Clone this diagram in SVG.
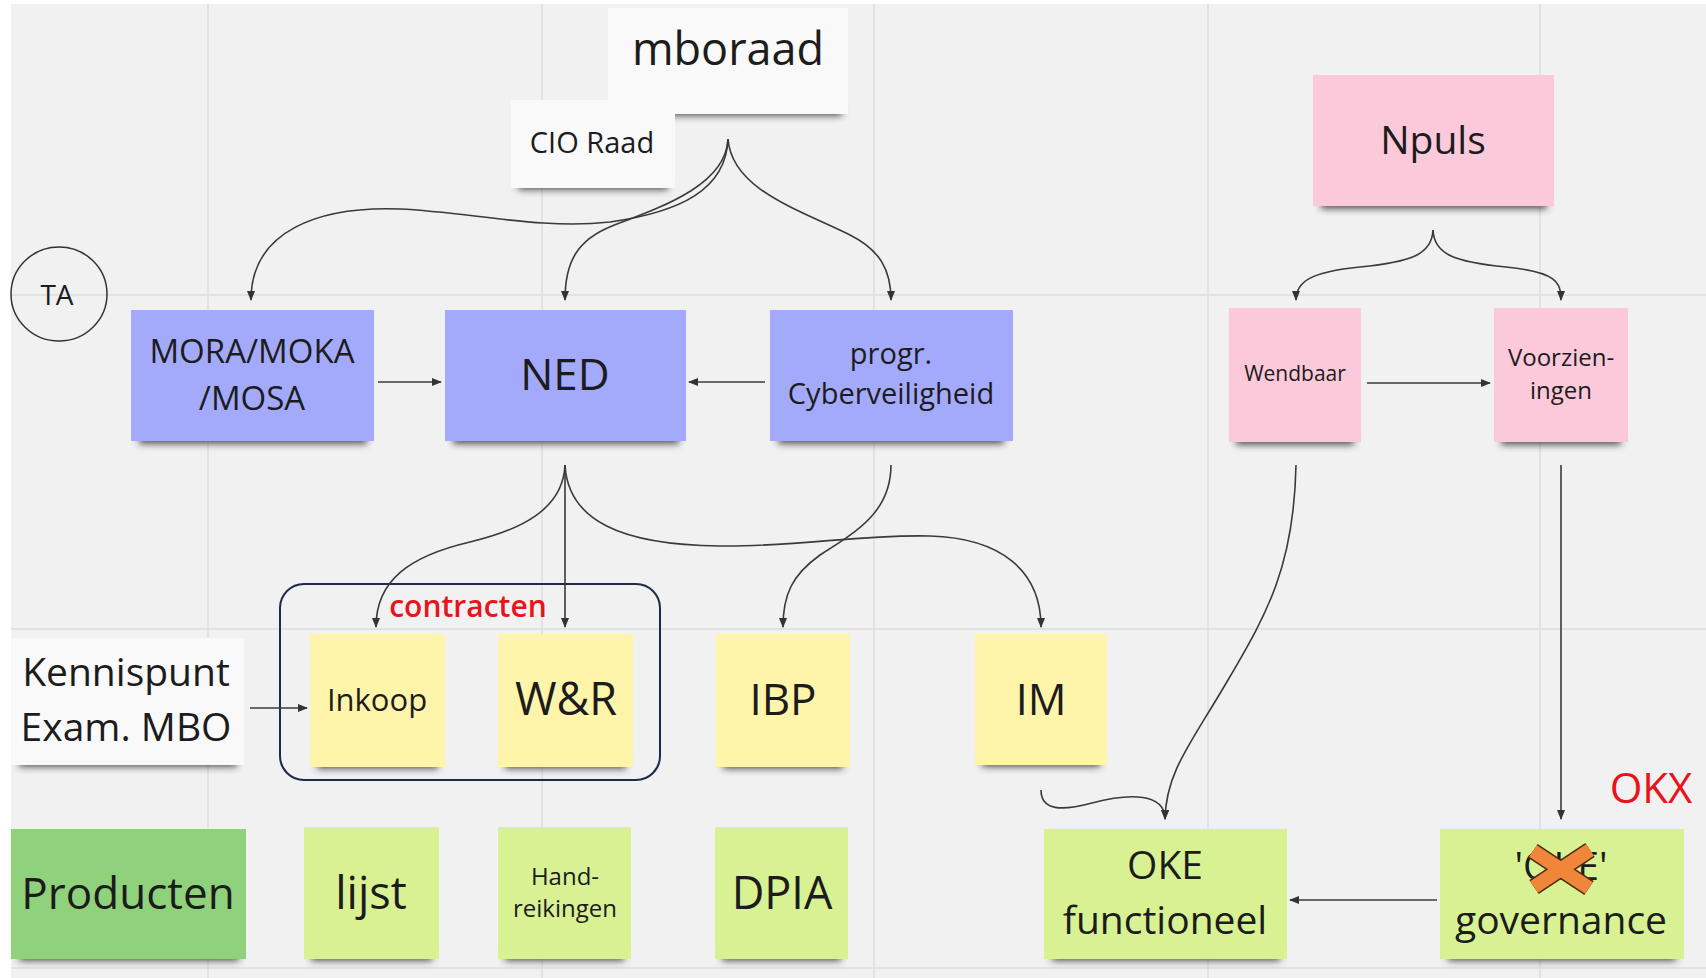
<svg xmlns="http://www.w3.org/2000/svg" width="1706" height="978" viewBox="0 0 1706 978">
<defs>
<filter id="sh" x="-20%" y="-100%" width="140%" height="300%"><feGaussianBlur stdDeviation="3.5"/></filter>
<marker id="ar" viewBox="0 0 10 10" refX="9" refY="5" markerWidth="10" markerHeight="10" markerUnits="userSpaceOnUse" orient="auto"><path d="M0,1 L10,5 L0,9 Z" fill="#333"/></marker>
<style>
text{font-family:"Open Sans","Liberation Sans",sans-serif;fill:#1c1c1c;text-anchor:middle}
.grid{stroke:#dcdcdc;stroke-width:1.5}
.shd{fill:#333;opacity:0.8;filter:url(#sh)}
.c{fill:none;stroke:#3a3a3a;stroke-width:1.6;marker-end:url(#ar)}
.wh{fill:#f9f9f9}
.bl{fill:#a4aafb}
.pk{fill:#fcc9da}
.ye{fill:#fff5aa}
.lg{fill:#d8f293}
.dg{fill:#8fd27b}
</style>
</defs>
<rect width="1706" height="978" fill="#ffffff"/>
<rect x="11" y="4" width="1695" height="974" fill="#f1f1f1"/>
<g id="grid">
<line class="grid" x1="208" y1="4" x2="208" y2="978"/>
<line class="grid" x1="542" y1="4" x2="542" y2="978"/>
<line class="grid" x1="874" y1="4" x2="874" y2="978"/>
<line class="grid" x1="1208" y1="4" x2="1208" y2="978"/>
<line class="grid" x1="1540" y1="4" x2="1540" y2="978"/>
<line class="grid" x1="11" y1="295" x2="1706" y2="295"/>
<line class="grid" x1="11" y1="629" x2="1706" y2="629"/>
<line class="grid" x1="11" y1="968" x2="1706" y2="968"/>
</g>

<g id="mboraad"><rect class="shd" x="616" y="106" width="226" height="10"/><rect class="wh" x="608" y="8" width="240" height="106"/><text x="728" y="65" font-size="45">mboraad</text></g>
<g id="cio-raad"><rect class="shd" x="518" y="180" width="150" height="10"/><rect class="wh" x="511" y="100" width="164" height="88"/><text x="592" y="153" font-size="29">CIO Raad</text></g>
<g id="ta"><ellipse cx="59" cy="294" rx="48" ry="47" fill="none" stroke="#333" stroke-width="1.5"/><text x="57" y="305" font-size="28">TA</text></g>

<g id="mora"><rect class="shd" x="139" y="433" width="228" height="11"/><rect class="bl" x="131" y="310" width="243" height="131"/><text x="252" y="363" font-size="33">MORA/MOKA</text><text x="252" y="410" font-size="33">/MOSA</text></g>
<g id="ned"><rect class="shd" x="453" y="433" width="226" height="11"/><rect class="bl" x="445" y="310" width="241" height="131"/><text x="565" y="390" font-size="44">NED</text></g>
<g id="progr"><rect class="shd" x="778" y="433" width="226" height="11"/><rect class="bl" x="770" y="310" width="243" height="131"/><text x="891" y="364" font-size="29">progr.</text><text x="891" y="404" font-size="29">Cyberveiligheid</text></g>

<g id="npuls"><rect class="shd" x="1321" y="198" width="226" height="11"/><rect class="pk" x="1313" y="75" width="241" height="131"/><text x="1433" y="154" font-size="39">Npuls</text></g>
<g id="wendbaar"><rect class="shd" x="1236" y="434" width="118" height="11"/><rect class="pk" x="1229" y="308" width="132" height="134"/><text x="1295" y="381" font-size="21">Wendbaar</text></g>
<g id="voorzieningen"><rect class="shd" x="1501" y="434" width="120" height="11"/><rect class="pk" x="1494" y="308" width="134" height="134"/><text x="1561" y="366" font-size="24">Voorzien-</text><text x="1561" y="399" font-size="24">ingen</text></g>

<g id="kennispunt"><rect class="shd" x="19" y="756" width="218" height="11"/><rect class="wh" x="11" y="638" width="233" height="127"/><text x="126" y="686" font-size="39">Kennispunt</text><text x="126" y="741" font-size="39">Exam. MBO</text></g>
<g id="contracten"><rect x="280" y="584" width="380" height="196" rx="24" fill="none" stroke="#1e2a4a" stroke-width="2"/><text x="468" y="617" font-size="30" font-weight="600" style="fill:#e8141c">contracten</text></g>
<g id="inkoop"><rect class="shd" x="317" y="758" width="121" height="11"/><rect class="ye" x="310" y="634" width="135" height="133"/><text x="377" y="711" font-size="31">Inkoop</text></g>
<g id="wr"><rect class="shd" x="505" y="758" width="121" height="11"/><rect class="ye" x="498" y="634" width="135" height="133"/><text x="566" y="715" font-size="45">W&amp;R</text></g>
<g id="ibp"><rect class="shd" x="723" y="758" width="120" height="11"/><rect class="ye" x="716" y="634" width="134" height="133"/><text x="783" y="715" font-size="44">IBP</text></g>
<g id="im"><rect class="shd" x="982" y="756" width="118" height="11"/><rect class="ye" x="975" y="634" width="132" height="131"/><text x="1041" y="715" font-size="43">IM</text></g>

<g id="producten"><rect class="shd" x="19" y="950" width="220" height="11"/><rect class="dg" x="11" y="829" width="235" height="130"/><text x="128" y="909" font-size="44">Producten</text></g>
<g id="lijst"><rect class="shd" x="311" y="950" width="121" height="11"/><rect class="lg" x="304" y="827" width="135" height="132"/><text x="371" y="909" font-size="45">lijst</text></g>
<g id="handreikingen"><rect class="shd" x="505" y="950" width="119" height="11"/><rect class="lg" x="498" y="827" width="133" height="132"/><text x="565" y="885" font-size="24">Hand-</text><text x="565" y="917" font-size="24">reikingen</text></g>
<g id="dpia"><rect class="shd" x="722" y="950" width="119" height="11"/><rect class="lg" x="715" y="827" width="133" height="132"/><text x="782" y="909" font-size="45">DPIA</text></g>
<g id="oke"><rect class="shd" x="1052" y="950" width="228" height="11"/><rect class="lg" x="1044" y="829" width="243" height="130"/><text x="1165" y="879" font-size="39">OKE</text><text x="1165" y="934" font-size="39">functioneel</text></g>
<g id="governance"><rect class="shd" x="1448" y="950" width="228" height="11"/><rect class="lg" x="1440" y="829" width="244" height="130"/><text x="1561" y="880" font-size="39">'OKE'</text>
<line x1="1533" y1="851" x2="1589" y2="888" stroke="#4a2a10" stroke-width="17"/><line x1="1534" y1="887" x2="1590" y2="850" stroke="#4a2a10" stroke-width="17"/><line x1="1533" y1="851" x2="1589" y2="888" stroke="#f0863a" stroke-width="14"/><line x1="1534" y1="887" x2="1590" y2="850" stroke="#f0863a" stroke-width="14"/>
<text x="1561" y="934" font-size="39">governance</text></g>
<g id="okx"><text x="1651" y="803" font-size="42" style="fill:#e8141c">OKX</text></g>

<g id="connectors">
<path class="c" d="M728,139 C726,190 680,212 610,222 C540,230 470,212 400,209 C320,206 251,230 251,300"/>
<path class="c" d="M728,139 C726,185 662,207 612,226 C577,240 565,262 565,300"/>
<path class="c" d="M728,139 C732,190 800,210 850,235 C880,250 891,270 891,300"/>
<path class="c" d="M378,382 L441,382"/>
<path class="c" d="M765,382 L689,382"/>
<path class="c" d="M565,465 C563,510 520,530 470,542 C410,556 376,580 376,627"/>
<path class="c" d="M565,465 L565,627"/>
<path class="c" d="M565,465 C568,520 620,545 720,546 C800,547 860,534 930,536 C1000,538 1041,570 1041,627"/>
<path class="c" d="M891,465 C891,510 860,530 820,555 C792,575 783,595 783,627"/>
<path class="c" d="M1433,230 C1432,255 1410,262 1360,267 C1310,272 1296,282 1296,300"/>
<path class="c" d="M1433,230 C1434,255 1456,262 1506,267 C1556,272 1561,282 1561,300"/>
<path class="c" d="M1367,383 L1490,383"/>
<path class="c" d="M250,708 L307,708"/>
<path class="c" d="M1296,465 C1294,565 1268,612 1228,680 C1190,745 1166,772 1165,819"/>
<path class="c" d="M1041,790 C1041,811 1062,811 1092,803 C1130,793 1165,793 1165,819"/>
<path class="c" d="M1561,465 L1561,819"/>
<path class="c" d="M1437,900 L1290,900"/>
</g>
</svg>
